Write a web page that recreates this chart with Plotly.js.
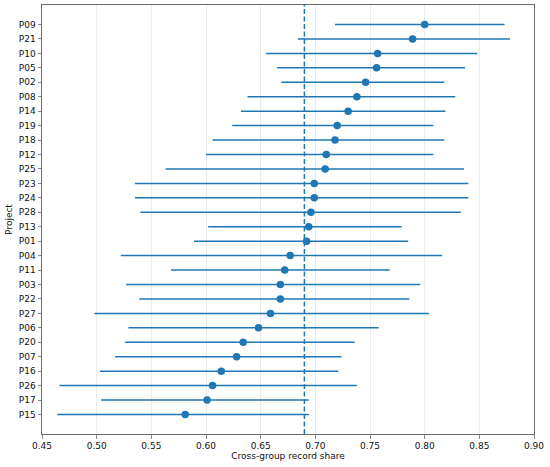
<!DOCTYPE html>
<html>
<head>
<meta charset="utf-8">
<script src="https://cdn.plot.ly/plotly-3.0.1.min.js"></script>
<style>html,body{margin:0;padding:0;background:#fff;}#chart{width:550px;height:467px;}</style>
</head>
<body>
<div id="chart"></div>
<script>
// Projects, top to bottom
const projects = ["P09","P21","P10","P05","P02","P08","P14","P19","P18","P12","P25","P23","P24","P28","P13","P01","P04","P11","P03","P22","P27","P06","P20","P07","P16","P26","P17","P15"];
const shareEstimate = [0.800,0.789,0.757,0.756,0.746,0.738,0.730,0.720,0.718,0.710,0.709,0.699,0.699,0.696,0.694,0.692,0.677,0.672,0.668,0.668,0.659,0.648,0.634,0.628,0.614,0.606,0.601,0.581];
const ciLow = [0.718,0.684,0.655,0.665,0.669,0.638,0.632,0.624,0.606,0.600,0.563,0.535,0.535,0.540,0.602,0.589,0.522,0.568,0.527,0.539,0.498,0.529,0.526,0.517,0.503,0.466,0.504,0.464];
const ciHigh = [0.873,0.878,0.848,0.837,0.818,0.828,0.819,0.808,0.818,0.808,0.836,0.840,0.840,0.833,0.779,0.785,0.816,0.768,0.796,0.786,0.804,0.758,0.736,0.724,0.721,0.738,0.694,0.694];
const pooledShare = 0.69;
const xTicks = [0.45,0.50,0.55,0.60,0.65,0.70,0.75,0.80,0.85,0.90];

const blue = "#1f77b4";
const errPlus = shareEstimate.map((v,i) => ciHigh[i] - v);
const errMinus = shareEstimate.map((v,i) => v - ciLow[i]);

const trace = {
  type: "scatter",
  mode: "markers",
  x: shareEstimate,
  y: projects,
  marker: {color: blue, size: 7.5},
  error_x: {type: "data", symmetric: false, array: errPlus, arrayminus: errMinus, color: blue, thickness: 1.5, width: 0},
  hoverinfo: "x+y",
  showlegend: false
};

const font = {family: "DejaVu Sans, sans-serif", size: 9, color: "#111"};
const layout = {
  width: 550, height: 467,
  margin: {l: 42, r: 16, t: 5, b: 33},
  paper_bgcolor: "#fff", plot_bgcolor: "#fff",
  font: font,
  xaxis: {
    range: [0.45, 0.90],
    tickvals: xTicks,
    ticktext: xTicks.map(v => v.toFixed(2)),
    showgrid: true, gridcolor: "#e6e6e6", gridwidth: 0.8,
    zeroline: false, automargin: false,
    showline: true, mirror: true, linecolor: "#6b6b6b", linewidth: 1,
    ticks: "outside", ticklen: 3.5, tickcolor: "#6b6b6b", tickwidth: 0.8,
    tickfont: font,
    title: {text: "Cross-group record share", font: font, standoff: 2}
  },
  yaxis: {
    type: "category",
    categoryorder: "array", categoryarray: projects,
    range: [28.35, -1.35],
    showgrid: false, zeroline: false, automargin: false,
    showline: true, mirror: true, linecolor: "#6b6b6b", linewidth: 1,
    ticks: "outside", ticklen: 3.5, tickcolor: "#6b6b6b", tickwidth: 0.8,
    tickfont: font,
    title: {text: "Project", font: font, standoff: 4}
  },
  shapes: [{
    type: "line", xref: "x", yref: "paper",
    x0: pooledShare, x1: pooledShare, y0: 0, y1: 1,
    line: {color: blue, width: 1.5, dash: "5px,2.5px"}
  }]
};

Plotly.newPlot("chart", [trace], layout, {displayModeBar: false, staticPlot: true});
</script>
</body>
</html>
